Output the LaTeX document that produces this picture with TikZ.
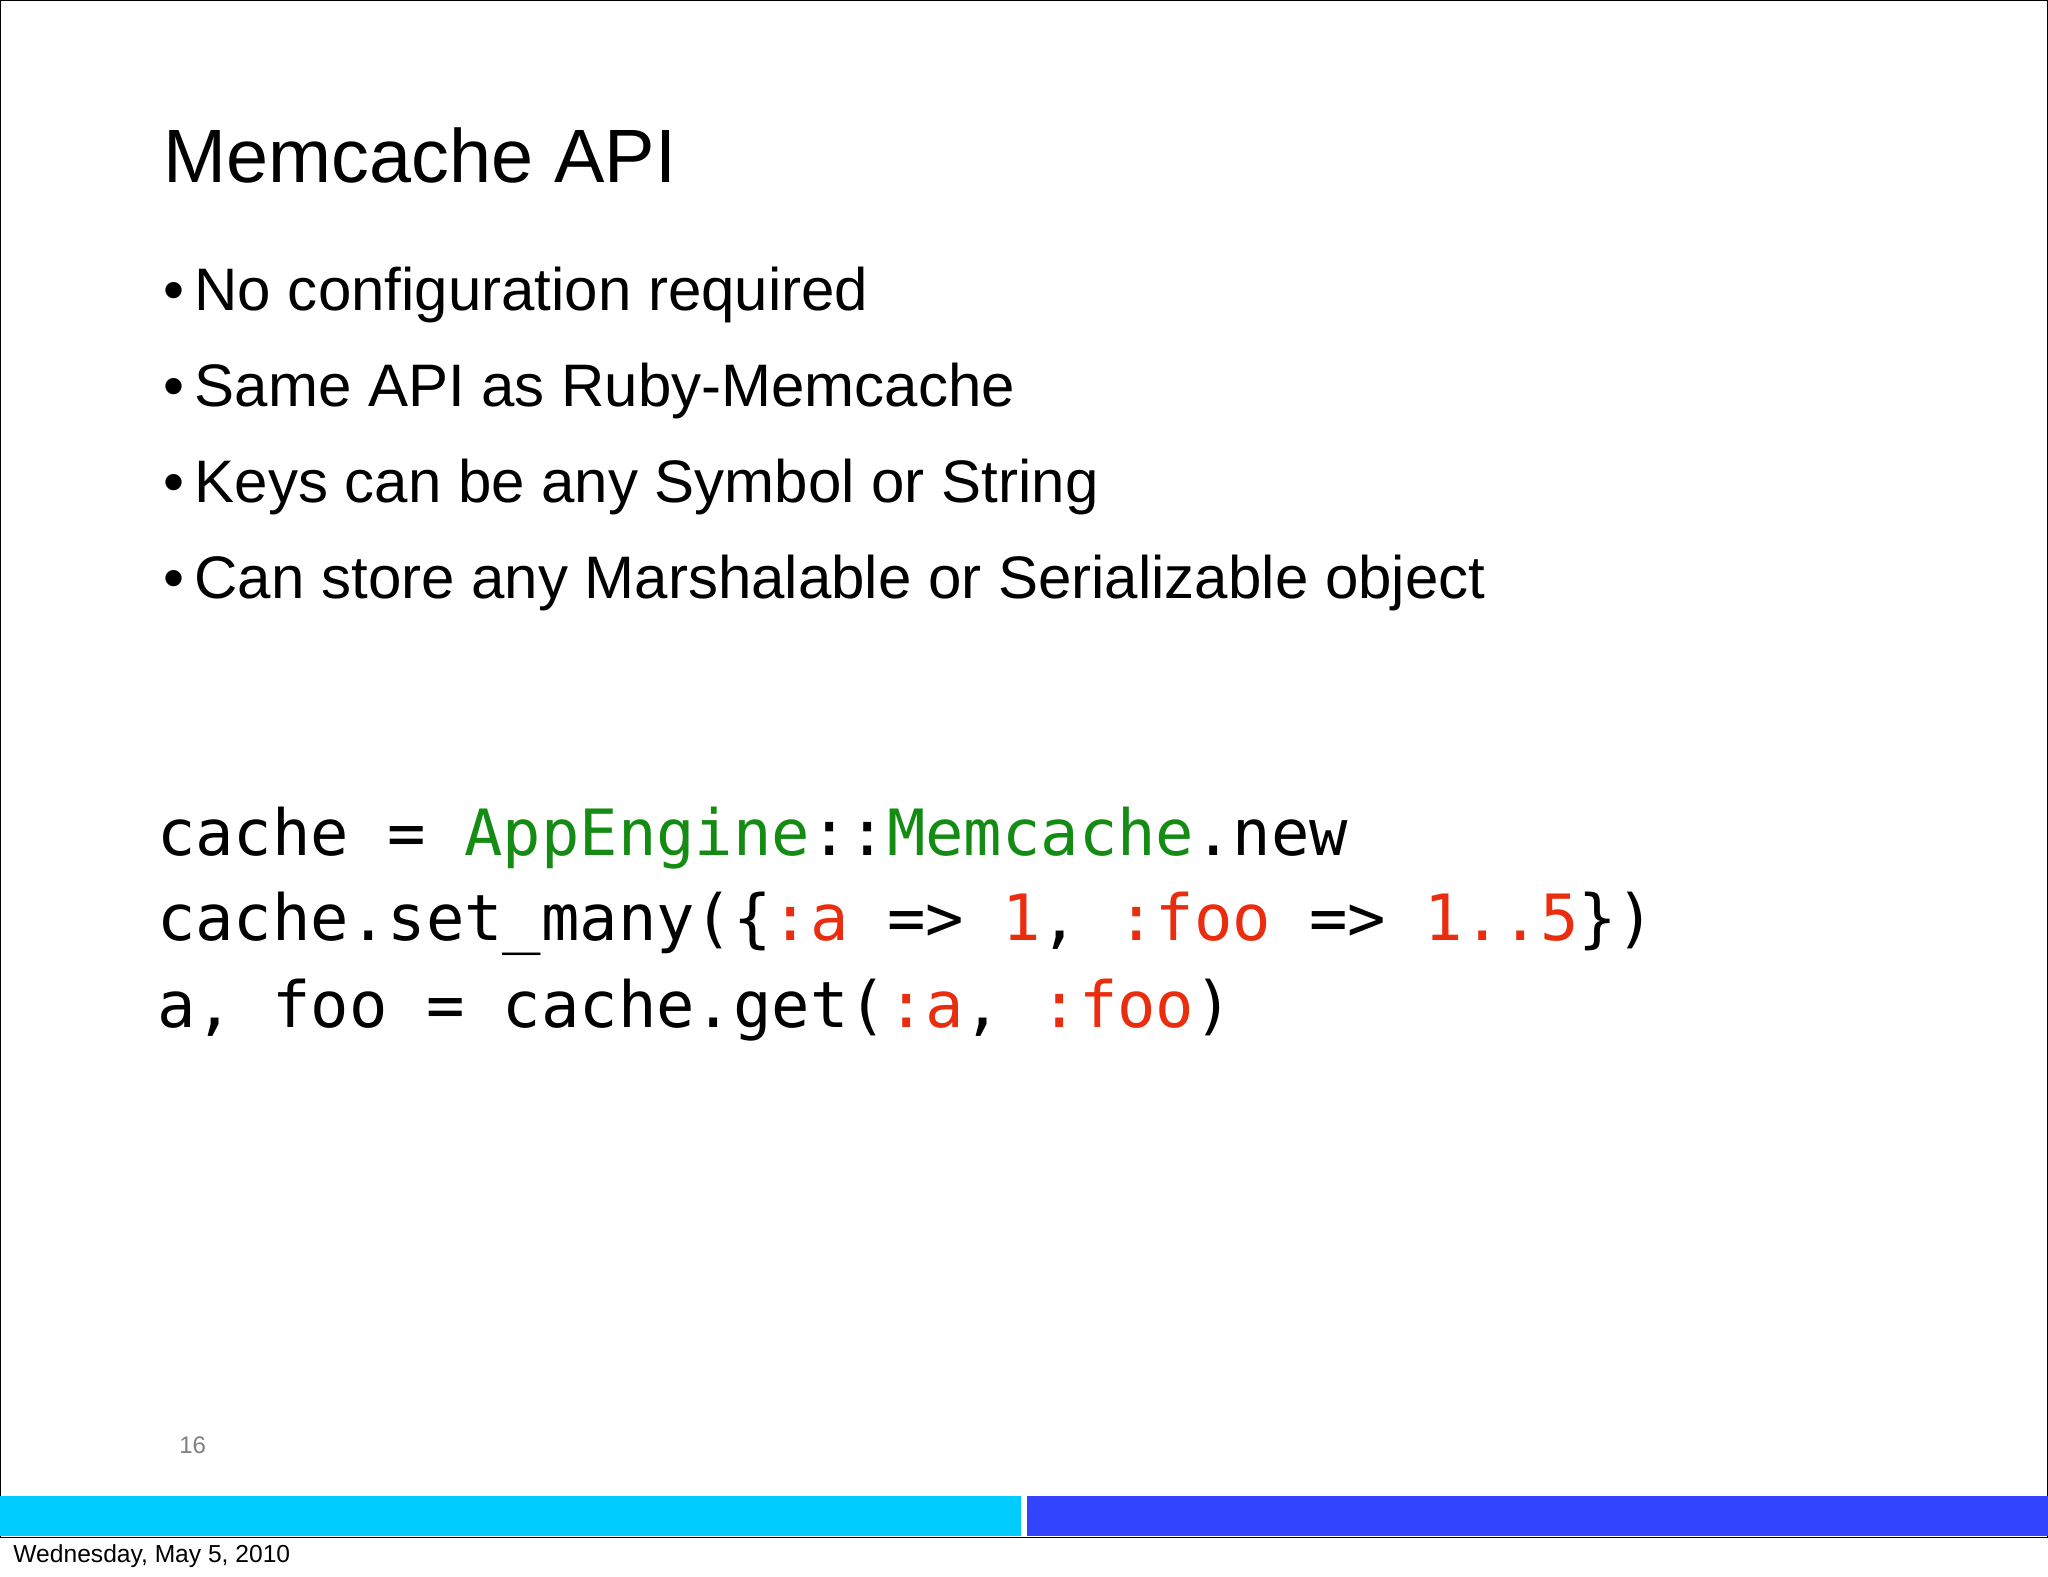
\documentclass[tikz,border=0pt]{standalone}
\usepackage{fontspec}
\setmainfont{Liberation Sans}
\newfontfamily\codefont{DejaVu Sans Mono}
\definecolor{cgreen}{RGB}{20,140,20}
\definecolor{cred}{RGB}{235,45,15}
\definecolor{barcyan}{RGB}{0,204,255}
\definecolor{barblue}{RGB}{51,68,255}
\begin{document}
\begin{tikzpicture}[x=0.653pt,y=-0.653pt,
  txt/.style={anchor=base west,inner sep=0pt},
  bullet/.style={txt,font=\fontsize{30}{36}\selectfont},
  code/.style={txt,font=\codefont\fontsize{31.9}{36}\selectfont}]
\useasboundingbox (0,0) rectangle (1568,1207);
\fill[white] (0,0) rectangle (1568,1207);
\draw[black,line width=0.8pt] (0.5,0.5) rectangle (1567.5,1177);
\fill[barcyan] (0,1145) rectangle (782,1176);
\fill[barblue] (786,1145) rectangle (1568,1176);
\node[txt,font=\fontsize{37.8}{44}\selectfont] (title) at (125,140) {Memcache API};
\node[bullet] (b1) at (125,238) {\textbullet\,No configuration required};
\node[bullet] (b2) at (125,311) {\textbullet\,Same API as Ruby-Memcache};
\node[bullet] (b3) at (125,385) {\textbullet\,Keys can be any Symbol or String};
\node[bullet] (b4) at (125,458) {\textbullet\,Can store any Marshalable or Serializable object};
\node[code] (c1) at (120,655) {cache = \textcolor{cgreen}{AppEngine}::\textcolor{cgreen}{Memcache}.new};
\node[code] (c2) at (120,720) {cache.set\_many(\{\textcolor{cred}{:a} => \textcolor{cred}{1}, \textcolor{cred}{:foo} => \textcolor{cred}{1..5}\})};
\node[code] (c3) at (120,787) {a, foo = cache.get(\textcolor{cred}{:a}, \textcolor{cred}{:foo})};
\node[txt,font=\fontsize{12}{14}\selectfont,text=gray] (pg) at (137,1113) {16};
\node[txt,font=\fontsize{12.3}{14}\selectfont] (date) at (10,1196) {Wednesday, May 5, 2010};
\end{tikzpicture}
\end{document}
